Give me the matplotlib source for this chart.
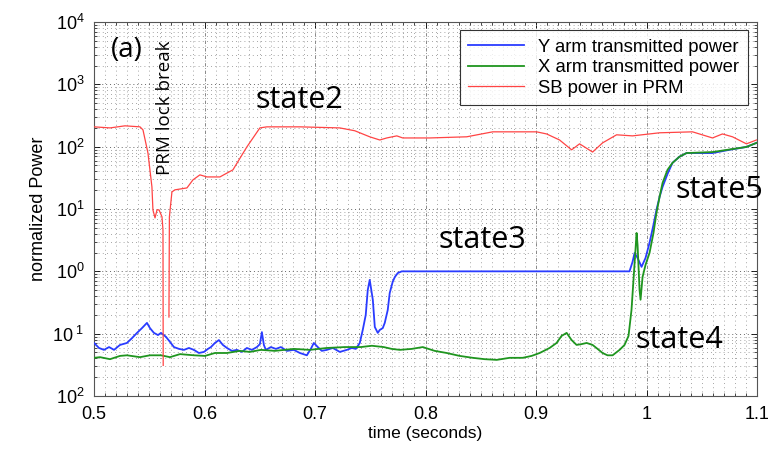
import numpy as np
import matplotlib
matplotlib.use("Agg")
import matplotlib.pyplot as plt
from matplotlib.ticker import FixedLocator, MultipleLocator, LogLocator, NullFormatter

plt.rcParams['font.family'] = ['Liberation Sans', 'DejaVu Sans']
plt.rcParams['mathtext.fontset'] = 'custom'
plt.rcParams['mathtext.rm'] = 'Liberation Sans'
plt.rcParams['mathtext.it'] = 'Liberation Sans'

# SB power in PRM (red), NaN marks the data gap at the lock break
t_red = [0.500, 0.5145, 0.528, 0.5416, 0.5443, 0.5488, 0.5524, 0.5533, 0.5552, 0.5570,
         0.5588, 0.5615, 0.5624, 0.5626, np.nan, 0.5678, 0.5682, 0.5705, 0.5732, 0.5841,
         0.5895, 0.5958, 0.6022, 0.6139, 0.6257, 0.6383, 0.6501, 0.6564, 0.6863, 0.7224,
         0.7360, 0.7495, 0.7586, 0.7649, 0.7740, 0.7794, 0.8038, 0.8373, 0.8608, 0.9005,
         0.9096, 0.9213, 0.9322, 0.9394, 0.9512, 0.9602, 0.9729, 0.9873, 1.0118, 1.0416,
         1.0597, 1.0687, 1.0778, 1.0904, 1.0995]
p_red = [208, 200, 216, 208, 186, 79, 22.6, 9.7, 7.2, 9.7,
         9.7, 7.5, 4.6, 0.031, np.nan, 0.185, 7.5, 18.8, 20.3, 21.8,
         29.3, 35.3, 32.7, 32.7, 42.5, 99, 200, 208, 208, 200,
         180, 144, 128, 138, 149, 138, 138, 144, 173, 173,
         160, 128, 89, 111, 82, 115, 155, 149, 167, 173,
         138, 160, 144, 111, 128]

# Y arm transmitted power (blue)
t_y = [0.500, 0.5045, 0.509, 0.5136, 0.5181, 0.5235, 0.5298, 0.5344, 0.5389, 0.5434,
       0.5479, 0.5506, 0.5542, 0.5579, 0.5606, 0.5651, 0.5687, 0.5723, 0.5769, 0.5814,
       0.5859, 0.5904, 0.5949, 0.5995, 0.6031, 0.6058, 0.6094, 0.6130, 0.6166, 0.6203,
       0.6248, 0.6293, 0.6338, 0.6383, 0.6429, 0.6474, 0.6501, 0.6519, 0.6537, 0.6555,
       0.6600, 0.6646, 0.6691, 0.6745, 0.6808, 0.6863, 0.6926, 0.6962, 0.6989, 0.7025,
       0.7061, 0.7107, 0.7161, 0.7224, 0.7288, 0.7333, 0.7369, 0.7405, 0.7432, 0.7459,
       0.7477, 0.7495, 0.7523, 0.7541, 0.7568, 0.7586, 0.7613, 0.7631, 0.7658, 0.7676,
       0.7703, 0.7722, 0.7749, 0.7785, 0.85, 0.92, 0.9846, 0.9873, 0.9892, 0.9919,
       0.9955, 0.9991, 1.0027, 1.0063, 1.0090, 1.0118, 1.0145, 1.0190, 1.0235, 1.0298,
       1.0362, 1.0479, 1.0597, 1.0750, 1.0904, 1.0995]
p_y = [0.071, 0.059, 0.055, 0.061, 0.055, 0.066, 0.071, 0.085, 0.103, 0.123,
       0.149, 0.123, 0.103, 0.095, 0.103, 0.089, 0.074, 0.061, 0.057, 0.055,
       0.059, 0.055, 0.049, 0.051, 0.057, 0.061, 0.071, 0.079, 0.066, 0.059,
       0.053, 0.055, 0.051, 0.059, 0.055, 0.061, 0.068, 0.106, 0.066, 0.055,
       0.061, 0.057, 0.061, 0.053, 0.055, 0.049, 0.045, 0.057, 0.071, 0.061,
       0.053, 0.055, 0.059, 0.051, 0.055, 0.059, 0.057, 0.071, 0.115, 0.20,
       0.50, 0.73, 0.35, 0.128, 0.103, 0.115, 0.123, 0.149, 0.24, 0.45,
       0.68, 0.81, 0.94, 1.0, 1.0, 1.0, 1.0, 1.41, 1.97, 1.64,
       1.18, 1.64, 2.86, 5.6, 9.7, 15.6, 22.6, 36.5, 55, 69,
       79, 79, 79, 89, 99, 115]

# X arm transmitted power (green)
t_x = [0.500, 0.5054, 0.5145, 0.5235, 0.5298, 0.5416, 0.5506, 0.5606, 0.5687, 0.5778,
       0.5904, 0.6004, 0.6094, 0.6203, 0.6320, 0.6410, 0.6510, 0.6637, 0.6808, 0.6953,
       0.7107, 0.7269, 0.7414, 0.7514, 0.7622, 0.7694, 0.7767, 0.7875, 0.7975, 0.8083,
       0.8192, 0.8309, 0.8427, 0.8535, 0.8644, 0.8761, 0.8879, 0.8960, 0.9033, 0.9123,
       0.9186, 0.9231, 0.9277, 0.9322, 0.9367, 0.9412, 0.9458, 0.9512, 0.9557, 0.9602,
       0.9647, 0.9693, 0.9756, 0.9801, 0.9837, 0.9864, 0.9882, 0.9900, 0.9910, 0.9919,
       0.9937, 0.9946, 0.9964, 0.9991, 1.0027, 1.0063, 1.0090, 1.0118, 1.0145, 1.0190,
       1.0235, 1.0298, 1.0362, 1.0597, 1.0904, 1.0995]
p_x = [0.041, 0.042, 0.039, 0.044, 0.045, 0.042, 0.045, 0.045, 0.042, 0.047,
       0.045, 0.044, 0.049, 0.049, 0.053, 0.051, 0.055, 0.053, 0.057, 0.055,
       0.059, 0.061, 0.061, 0.064, 0.061, 0.057, 0.055, 0.057, 0.061, 0.053,
       0.049, 0.044, 0.041, 0.039, 0.038, 0.041, 0.041, 0.044, 0.049, 0.059,
       0.071, 0.092, 0.103, 0.079, 0.066, 0.068, 0.071, 0.066, 0.057, 0.049,
       0.045, 0.045, 0.055, 0.066, 0.092, 0.24, 0.73, 2.20, 4.13, 2.65,
       0.50, 0.35, 0.81, 1.27, 1.97, 4.13, 8.65, 15.6, 26.2, 42.5,
       55, 69, 79, 82, 99, 115]

x_ticks = [0.5, 0.6, 0.7, 0.8, 0.9, 1.0, 1.1]
x_labels = ['0.5', '0.6', '0.7', '0.8', '0.9', '1', '1.1']
y_ticks = [1e-2, 1e-1, 1e0, 1e1, 1e2, 1e3, 1e4]
y_labels = ['$10^{2}$', '$10^{\\ 1}$', '$10^{0}$', '$10^{1}$', '$10^{2}$', '$10^{3}$', '$10^{4}$']

fig = plt.figure(figsize=(7.72, 4.49), dpi=100)
ax = fig.add_axes([0.1218, 0.118, 0.8588, 0.833])

ax.plot(t_y, p_y, color='#2a3cff', lw=1.3, label='Y arm transmitted power', zorder=3)
ax.plot(t_x, p_x, color='#1f951f', lw=1.3, label='X arm transmitted power', zorder=4)
ax.plot(t_red, p_red, color='#ff4444', lw=0.9, label='SB power in PRM', zorder=5)

ax.set_yscale('log')
ax.set_xlim(0.5, 1.1)
ax.set_ylim(1e-2, 1e4)
ax.xaxis.set_major_locator(FixedLocator(x_ticks))
ax.set_xticklabels(x_labels)
ax.xaxis.set_minor_locator(MultipleLocator(0.01))
ax.yaxis.set_major_locator(FixedLocator(y_ticks))
ax.set_yticklabels(y_labels)
ax.yaxis.set_minor_locator(LogLocator(base=10, subs=np.arange(2, 10), numticks=20))
ax.yaxis.set_minor_formatter(NullFormatter())

ax.tick_params(which='both', direction='in', top=True, right=True, labelsize=13, pad=7)
ax.tick_params(which='major', length=4, width=0.6)
ax.tick_params(which='minor', length=2, width=0.5)

ax.grid(which='major', axis='x', color='#777777', lw=0.6, ls=(0, (4, 2, 1, 2)))
ax.grid(which='major', axis='y', color='#666666', lw=0.7, ls=(0, (1, 3)))
ax.grid(which='minor', color='#888888', lw=0.6, ls=(0, (1, 4)))
for s in ax.spines.values():
    s.set_color('#555555')
    s.set_linewidth(0.8)

ax.set_xlabel('time (seconds)', fontsize=12.5, labelpad=2)
ax.set_ylabel('normalized Power', fontsize=13, labelpad=4)

leg = ax.legend(loc='upper right', bbox_to_anchor=(0.986, 0.978), fontsize=13.3,
                frameon=True, fancybox=False, handlelength=3.0, borderpad=0.45,
                labelspacing=0.2, handletextpad=0.8, borderaxespad=0)
leg.get_frame().set_edgecolor('black')
leg.get_frame().set_linewidth(0.8)

ann = dict(family=['Open Sans', 'DejaVu Sans'], color='black')
ax.text(0.05, 0.925, '(a)', transform=ax.transAxes, fontsize=20, ha='center', va='center', **ann)
ax.text(0.5645, 420, 'PRM lock break', rotation=90, fontsize=13.5, ha='center', va='center', **ann)
ax.text(0.686, 560, 'state2', fontsize=22, ha='center', va='center', **ann)
ax.text(0.851, 3.2, 'state3', fontsize=22, ha='center', va='center', **ann)
ax.text(1.030, 0.079, 'state4', fontsize=22, ha='center', va='center', **ann)
ax.text(1.066, 20, 'state5', fontsize=22, ha='center', va='center', **ann)

fig.savefig('out.png', dpi=100)
